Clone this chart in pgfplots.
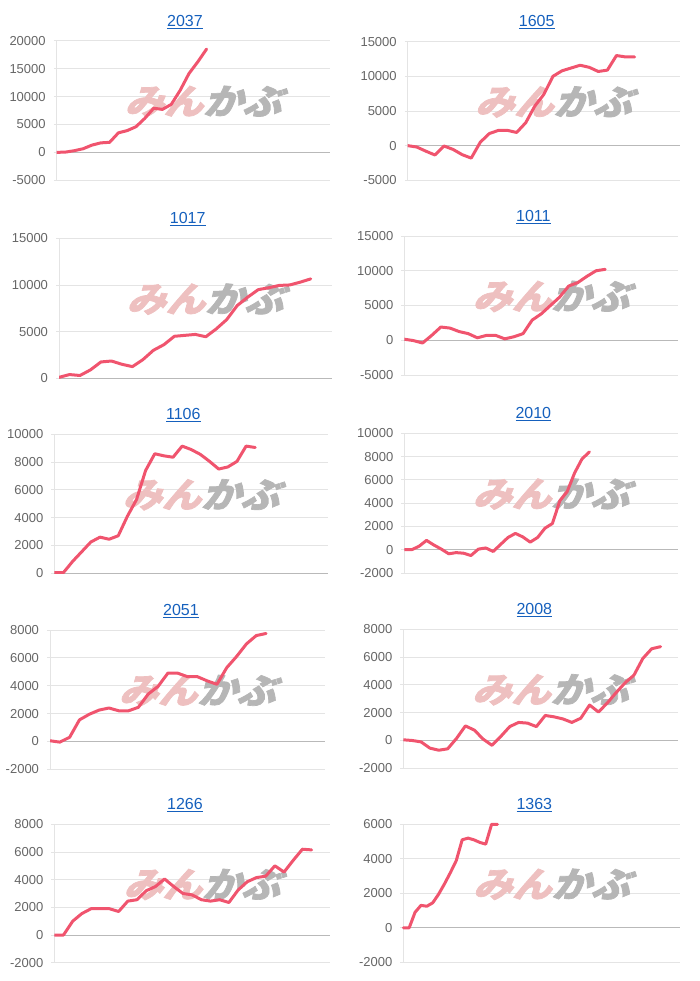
\documentclass[border=0pt]{standalone}
\usepackage{pgfplots}
\pgfplotsset{compat=1.18}
\usepackage{fontspec}
\setmainfont{Liberation Sans}
\newfontfamily\cjk[FakeSlant=0.3,BoldFeatures={FakeBold=2}]{Noto Sans CJK JP}
\definecolor{gridc}{RGB}{228,228,228}
\definecolor{zeroc}{RGB}{185,185,185}
\definecolor{tickc}{RGB}{102,102,102}
\definecolor{linec}{RGB}{240,84,110}
\definecolor{titlec}{RGB}{21,96,189}
\definecolor{wmpink}{RGB}{238,192,192}
\definecolor{wmgray}{RGB}{182,182,182}
\pgfplotsset{
  panel/.style={
    scale only axis, xmin=0, axis x line=none, axis y line*=left,
    y axis line style={draw=gridc, line width=0.8pt, -},
    ymajorgrids, major grid style={draw=gridc, line width=0.8pt},
    xtick=\empty,
    tick style={draw=gridc, line width=0.8pt}, major tick length=3pt, tick align=outside,
    yticklabel style={font=\fontsize{13}{13}\selectfont, text=tickc, xshift=-4.5pt},
    extra y ticks={0}, extra y tick labels={},
    extra y tick style={grid=major, major grid style={draw=zeroc, line width=0.8pt}},
    /pgf/number format/assume math mode=true, /pgf/number format/1000 sep={},
    scaled y ticks=false,
  },
  ser/.style={draw=linec, line width=3pt, line join=round, line cap=round, mark=none},
}
\newcommand{\wm}{\node[inner sep=0pt, xscale=1.12] at (rel axis cs:0.535,0.565) {\cjk\bfseries\fontsize{35}{35}\selectfont\textcolor{wmpink}{みん}\textcolor{wmgray}{かぶ}};}
\newcommand{\ttl}[3]{\node[text=titlec, font=\fontsize{16}{16}\selectfont] at (#1pt,#2pt) {\underline{#3}};}
\begin{document}
\begin{tikzpicture}[x=1pt,y=1pt]
\useasboundingbox (0,0) rectangle (700,981);
% P1 2037
\ttl{185}{959.3}{2037}
\begin{axis}[panel, at={(56.7pt,800.7pt)}, anchor=south west, width=273.3pt, height=139.6pt,
  xmax=31, ymin=-5000, ymax=20000, ytick={-5000,0,5000,10000,15000,20000}]
\wm
\addplot[ser] coordinates {(0,0)(1,50)(2,300)(3,650)(4,1300)(5,1700)(6,1800)(7,3500)(8,3900)(9,4600)(10,6100)(11,7900)(12,7700)(13,8600)(14,11100)(15,14100)(16,16200)(17,18500)};
\end{axis}
% P2 1605
\ttl{536.7}{958.7}{1605}
\begin{axis}[panel, at={(407.7pt,800.7pt)}, anchor=south west, width=272.3pt, height=138.6pt,
  xmax=30, ymin=-5000, ymax=15000, ytick={-5000,0,5000,10000,15000}]
\wm
\addplot[ser] coordinates {(0,0)(1,-200)(2,-800)(3,-1350)(4,-50)(5,-550)(6,-1300)(7,-1800)(8,500)(9,1750)(10,2200)(11,2200)(12,1900)(13,3300)(14,5700)(15,7400)(16,10000)(17,10800)(18,11200)(19,11600)(20,11300)(21,10700)(22,10900)(23,13000)(24,12800)(25,12800)};
\end{axis}
% P3 1017
\ttl{187.7}{762}{1017}
\begin{axis}[panel, at={(59pt,602.7pt)}, anchor=south west, width=272.7pt, height=140pt,
  xmax=26, ymin=0, ymax=15000, ytick={0,5000,10000,15000}]
\wm
\addplot[ser] coordinates {(0,100)(1,400)(2,300)(3,900)(4,1750)(5,1850)(6,1500)(7,1250)(8,2000)(9,3000)(10,3600)(11,4500)(12,4600)(13,4700)(14,4450)(15,5300)(16,6300)(17,7800)(18,8700)(19,9500)(20,9700)(21,9950)(22,10000)(23,10300)(24,10650)};
\end{axis}
% P4 1011
\ttl{533.3}{764.3}{1011}
\begin{axis}[panel, at={(404.3pt,606pt)}, anchor=south west, width=274pt, height=139pt,
  xmax=30, ymin=-5000, ymax=15000, ytick={-5000,0,5000,10000,15000}]
\wm
\addplot[ser] coordinates {(0,150)(1,-50)(2,-400)(3,700)(4,1900)(5,1750)(6,1250)(7,950)(8,350)(9,700)(10,700)(11,200)(12,500)(13,950)(14,2900)(15,3800)(16,5000)(17,6200)(18,7800)(19,8300)(20,9200)(21,10000)(22,10200)};
\end{axis}
% P5 1106
\ttl{183.3}{566}{1106}
\begin{axis}[panel, at={(54.3pt,407.7pt)}, anchor=south west, width=274pt, height=139pt,
  xmax=30, ymin=0, ymax=10000, ytick={0,2000,4000,6000,8000,10000}]
\wm
\addplot[ser] coordinates {(0,50)(1,50)(2,850)(3,1550)(4,2250)(5,2600)(6,2450)(7,2700)(8,4100)(9,5300)(10,7400)(11,8600)(12,8450)(13,8350)(14,9150)(15,8900)(16,8550)(17,8050)(18,7500)(19,7650)(20,8050)(21,9150)(22,9050)};
\end{axis}
% P6 2010
\ttl{533.3}{566.7}{2010}
\begin{axis}[panel, at={(404.3pt,408pt)}, anchor=south west, width=274pt, height=139.7pt,
  xmax=37, ymin=-2000, ymax=10000, ytick={-2000,0,2000,4000,6000,8000,10000}]
\wm
\addplot[ser] coordinates {(0,0)(1,0)(2,300)(3,800)(4,400)(5,50)(6,-350)(7,-250)(8,-300)(9,-500)(10,50)(11,150)(12,-150)(13,450)(14,1050)(15,1400)(16,1100)(17,650)(18,1050)(19,1850)(20,2250)(21,4200)(22,5000)(23,6600)(24,7800)(25,8400)};
\end{axis}
% P7 2051
\ttl{181}{370}{2051}
\begin{axis}[panel, at={(50pt,211.7pt)}, anchor=south west, width=275pt, height=139.3pt,
  xmax=28, ymin=-2000, ymax=8000, ytick={-2000,0,2000,4000,6000,8000}]
\wm
\addplot[ser] coordinates {(0,50)(1,-50)(2,300)(3,1550)(4,1950)(5,2250)(6,2400)(7,2200)(8,2200)(9,2450)(10,3400)(11,3950)(12,4900)(13,4900)(14,4650)(15,4650)(16,4350)(17,4100)(18,5300)(19,6100)(20,7000)(21,7600)(22,7750)};
\end{axis}
% P8 2008
\ttl{534.3}{371}{2008}
\begin{axis}[panel, at={(403.3pt,212.7pt)}, anchor=south west, width=275pt, height=139pt,
  xmax=31, ymin=-2000, ymax=8000, ytick={-2000,0,2000,4000,6000,8000}]
\wm
\addplot[ser] coordinates {(0,50)(1,0)(2,-100)(3,-550)(4,-700)(5,-600)(6,150)(7,1050)(8,750)(9,100)(10,-350)(11,300)(12,1000)(13,1300)(14,1250)(15,1000)(16,1800)(17,1700)(18,1550)(19,1300)(20,1600)(21,2550)(22,2050)(23,2700)(24,3450)(25,4150)(26,4700)(27,5900)(28,6600)(29,6750)};
\end{axis}
% P9 1266
\ttl{185}{176}{1266}
\begin{axis}[panel, at={(54.3pt,18.3pt)}, anchor=south west, width=275.7pt, height=138.4pt,
  xmax=30, ymin=-2000, ymax=8000, ytick={-2000,0,2000,4000,6000,8000}]
\wm
\addplot[ser] coordinates {(0,0)(1,0)(2,1000)(3,1550)(4,1900)(5,1900)(6,1900)(7,1700)(8,2450)(9,2550)(10,3200)(11,3500)(12,4050)(13,3500)(14,3000)(15,2900)(16,2550)(17,2450)(18,2550)(19,2350)(20,3250)(21,3850)(22,4150)(23,4250)(24,5000)(25,4550)(26,5400)(27,6200)(28,6150)};
\end{axis}
% P10 1363
\ttl{534.3}{176}{1363}
\begin{axis}[panel, at={(403.3pt,18.7pt)}, anchor=south west, width=276.7pt, height=138pt,
  xmax=47, ymin=-2000, ymax=6000, ytick={-2000,0,2000,4000,6000}, clip=false]
\wm
\addplot[ser] coordinates {(0,0)(1,0)(2,900)(3,1300)(4,1250)(5,1450)(6,1950)(7,2550)(8,3200)(9,3900)(10,5100)(11,5200)(12,5100)(13,4950)(14,4850)(15,6000)(16,6000)};
\end{axis}
\end{tikzpicture}
\end{document}
